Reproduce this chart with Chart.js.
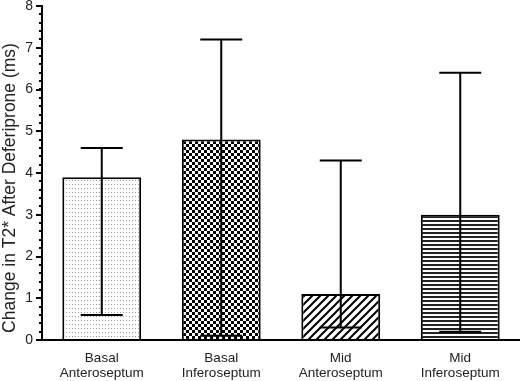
<!DOCTYPE html>
<html><head><meta charset="utf-8">
<script src="https://cdn.jsdelivr.net/npm/chart.js@4/dist/chart.umd.min.js"></script>
<style>html,body{margin:0;padding:0;background:#fff}#w{width:520px;height:381px}</style>
</head><body><div id="w"><canvas id="c" width="520" height="381"></canvas></div>
<script>
const categories = [["Basal","Anteroseptum"],["Basal","Inferoseptum"],["Mid","Anteroseptum"],["Mid","Inferoseptum"]];
const means = [3.9, 4.8, 1.1, 3.0];
const errHigh = [4.6, 7.2, 4.3, 6.4];
const errLow = [0.6, 0.1, 0.3, 0.2];
const yTicks = [0,1,2,3,4,5,6,7,8];
const yTitle = 'Change in T2* After Deferiprone (ms)';

function pat(w,h,draw){const c=document.createElement('canvas');c.width=w;c.height=h;const x=c.getContext('2d');x.fillStyle='#fff';x.fillRect(0,0,w,h);draw(x);return x.createPattern(c,'repeat');}
const ctx0=document.getElementById('c').getContext('2d');
const patterns=[
 pat(3,4,x=>{x.fillStyle='#999';x.fillRect(0,0,1,1);}),
 pat(6,6,x=>{x.fillStyle='#000';x.fillRect(0,0,3,3);x.fillRect(3,3,3,3);}),
 pat(8,8,x=>{x.strokeStyle='#000';x.lineWidth=2;x.beginPath();for(let k=-1;k<=1;k++){x.moveTo(k*8-1,9);x.lineTo(k*8+9,-1);}x.stroke();}),
 pat(4,4,x=>{x.fillStyle='#222';x.fillRect(0,0,4,2);})
];

const errPlugin={id:'err',afterDatasetsDraw(chart){
 const c=chart.ctx,xs=chart.scales.x,ys=chart.scales.y;
 c.save();c.strokeStyle='#000';c.lineWidth=2;
 means.forEach((m,i)=>{const x=xs.getPixelForValue(i);const yt=ys.getPixelForValue(errHigh[i]),yb=ys.getPixelForValue(errLow[i]);
  c.beginPath();c.moveTo(x,yt);c.lineTo(x,yb);c.moveTo(x-21,yt);c.lineTo(x+21,yt);c.moveTo(x-21,yb);c.lineTo(x+21,yb);c.stroke();});
 const a=chart.chartArea;c.lineWidth=2;c.beginPath();
 for(let v=0;v<=8.001;v+=0.2){const y=Math.round(ys.getPixelForValue(v));c.moveTo(a.left-3,y);c.lineTo(a.left,y);}
 c.stroke();
 c.fillStyle='#222';c.font='17.5px "Liberation Sans", Arial';c.textAlign='center';c.textBaseline='middle';
 c.translate(10,188);c.rotate(-Math.PI/2);c.fillText(yTitle,0,0);
 c.restore();}};

new Chart(ctx0,{type:'bar',
 data:{labels:categories,datasets:[{data:means,backgroundColor:patterns,borderColor:'#000',borderWidth:2,borderSkipped:'bottom',barPercentage:0.66,categoryPercentage:1}]},
 options:{responsive:false,animation:false,devicePixelRatio:1,
  layout:{padding:{top:6,right:0,left:0,bottom:0}},
  plugins:{legend:{display:false},tooltip:{enabled:false}},
  scales:{
   x:{grid:{display:false,drawTicks:false},border:{display:true,color:'#000',width:2},
      afterFit(s){s.height=41;s.paddingLeft=0;s.paddingRight=0;},
      ticks:{color:'#222',font:{family:'Liberation Sans, Arial',size:13.5,lineHeight:1.1},padding:11}},
   y:{min:0,max:8,afterBuildTicks(s){s.ticks=yTicks.map(v=>({value:v}));},
      afterFit(s){s.width=42;s.paddingTop=0;s.paddingBottom=0;},
      grid:{drawOnChartArea:false,drawTicks:true,tickLength:6,color:'#000',lineWidth:2},border:{display:true,color:'#000',width:2},
      ticks:{color:'#222',font:{family:'Liberation Sans, Arial',size:14},padding:3},
      title:{display:false}}
  }},
 plugins:[errPlugin]});
</script></body></html>
